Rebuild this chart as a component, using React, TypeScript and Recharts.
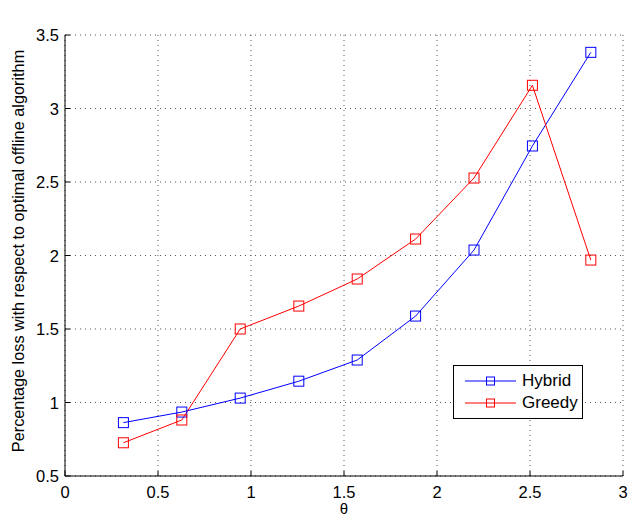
import React from 'react';
import { LineChart, Line, XAxis, YAxis, CartesianGrid, Legend } from 'recharts';

const thetaValues = [0.314, 0.628, 0.942, 1.257, 1.571, 1.885, 2.199, 2.513, 2.827];
const hybridValues = [0.863, 0.935, 1.03, 1.145, 1.289, 1.588, 2.037, 2.745, 3.382];
const greedyValues = [0.726, 0.881, 1.5, 1.656, 1.84, 2.112, 2.527, 3.158, 1.969];
const xTicks = [0, 0.5, 1, 1.5, 2, 2.5, 3];
const yTicks = [0.5, 1, 1.5, 2, 2.5, 3, 3.5];

const data = thetaValues.map((t, i) => ({ theta: t, hybrid: hybridValues[i], greedy: greedyValues[i] }));

const FONT = '"Liberation Sans", Arial, Helvetica, sans-serif';
const TICK_FS = 16.5;
const LABEL_FS = 17;

const SquareDot = (color: string) => (props: any) => {
  const { cx, cy, key } = props;
  if (cx == null || cy == null) return <g key={key} />;
  return <rect key={key} x={cx - 5} y={cy - 5} width={10} height={10} fill="none" stroke={color} strokeWidth={1} />;
};

const BottomTick = (props: any) => {
  const { x, y, payload } = props;
  const axisY = y - 10;
  return (
    <g>
      <line x1={x} y1={axisY} x2={x} y2={axisY - 5} stroke="#000" />
      <text x={x} y={axisY + 22} textAnchor="middle" fontFamily={FONT} fontSize={TICK_FS} fill="#000">{payload.value}</text>
    </g>
  );
};

const TopTick = (props: any) => {
  const { x, y } = props;
  return <line x1={x} y1={y} x2={x} y2={y + 5} stroke="#000" />;
};

const LeftTick = (props: any) => {
  const { x, y, payload } = props;
  const axisX = x + 10;
  return (
    <g>
      <line x1={axisX} y1={y} x2={axisX + 5} y2={y} stroke="#000" />
      <text x={axisX - 6} y={y + 6} textAnchor="end" fontFamily={FONT} fontSize={TICK_FS} fill="#000">{payload.value}</text>
    </g>
  );
};

const RightTick = (props: any) => {
  const { x, y } = props;
  return <line x1={x} y1={y} x2={x - 5} y2={y} stroke="#000" />;
};

const LegendBox = () => (
  <div style={{ width: 130, height: 54, border: '1px solid #000', background: '#fff', fontFamily: FONT, fontSize: LABEL_FS, boxSizing: 'border-box', position: 'relative' }}>
    {[{ name: 'Hybrid', color: '#0000ff', cy: 15 }, { name: 'Greedy', color: '#ff0000', cy: 37 }].map((s) => (
      <div key={s.name} style={{ position: 'absolute', left: 0, top: s.cy - 11, height: 22, display: 'flex', alignItems: 'center' }}>
        <svg width={64} height={14} style={{ marginLeft: 10 }}>
          <line x1={1} y1={7} x2={52} y2={7} stroke={s.color} strokeWidth={1} />
          <rect x={22.5} y={3} width={8} height={8} fill="none" stroke={s.color} />
        </svg>
        <span style={{ marginLeft: -6 }}>{s.name}</span>
      </div>
    ))}
  </div>
);

export default function App() {
  return (
    <div style={{ position: 'fixed', left: 0, top: 0, width: 628, height: 516, background: '#fff' }}>
      <LineChart width={628} height={516} data={data} margin={{ top: 35, right: 5, bottom: 20, left: 20 }}>
        <CartesianGrid xAxisId="b" yAxisId="l" stroke="#555" strokeDasharray="1 4" />
        <XAxis
          xAxisId="b"
          dataKey="theta"
          type="number"
          domain={[0, 3]}
          ticks={xTicks}
          height={20}
          axisLine={{ stroke: '#000' }}
          tickLine={false}
          tickSize={0}
          tickMargin={10}
          tick={<BottomTick />}
          label={{
            content: () => (
              <text x={344} y={514} textAnchor="middle" fontFamily={FONT} fontSize={15} fill="#000">θ</text>
            ),
          }}
        />
        <XAxis
          xAxisId="t"
          orientation="top"
          dataKey="theta"
          type="number"
          domain={[0, 3]}
          ticks={xTicks}
          height={0}
          axisLine={{ stroke: '#000' }}
          tickLine={false}
          tickSize={0}
          tickMargin={0}
          tick={<TopTick />}
          label={{
            content: () => (
              <text x={344} y={23} textAnchor="middle" fontFamily={FONT} fontSize={14} fill="#000">Hybrid vs. Greedy</text>
            ),
          }}
        />
        <YAxis
          yAxisId="l"
          type="number"
          domain={[0.5, 3.5]}
          ticks={yTicks}
          width={45}
          axisLine={{ stroke: '#000' }}
          tickLine={false}
          tickSize={0}
          tickMargin={10}
          tick={<LeftTick />}
          label={{
            content: () => (
              <text x={0} y={0} transform="translate(24, 251) rotate(-90)" textAnchor="middle" fontFamily={FONT} fontSize={16.3} fill="#000">
                Percentage loss with respect to optimal offline algorithm
              </text>
            ),
          }}
        />
        <YAxis
          yAxisId="r"
          orientation="right"
          type="number"
          domain={[0.5, 3.5]}
          ticks={yTicks}
          width={0}
          axisLine={{ stroke: '#000' }}
          tickLine={false}
          tickSize={0}
          tickMargin={0}
          tick={<RightTick />}
        />
        <Legend
          layout="horizontal"
          verticalAlign="middle"
          content={() => <LegendBox />}
          wrapperStyle={{ position: 'absolute', left: 453, top: 365, width: 130, height: 54 }}
        />
        <Line xAxisId="b" yAxisId="l" dataKey="hybrid" name="Hybrid" stroke="#0000ff" strokeWidth={1} dot={SquareDot('#0000ff')} isAnimationActive={false} />
        <Line xAxisId="b" yAxisId="l" dataKey="greedy" name="Greedy" stroke="#ff0000" strokeWidth={1} dot={SquareDot('#ff0000')} isAnimationActive={false} />
      </LineChart>
    </div>
  );
}
